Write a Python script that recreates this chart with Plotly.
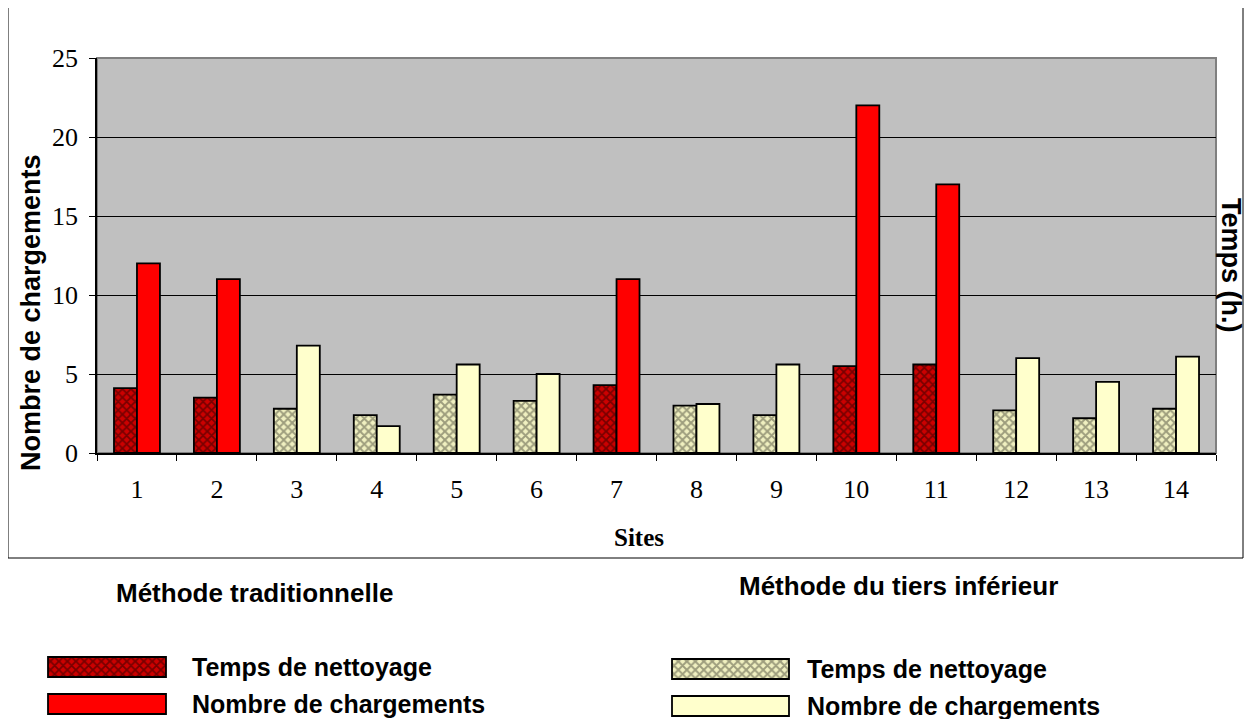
import plotly.graph_objects as go

# Data
SITES = [str(i) for i in range(1, 15)]
# "Méthode traditionnelle" sites: 1, 2, 7, 10, 11 ; others: "Méthode du tiers inférieur"
TRAD_TEMPS = [4.1, 3.5, None, None, None, None, 4.3, None, None, 5.5, 5.6, None, None, None]
TRAD_NOMBRE = [12, 11, None, None, None, None, 11, None, None, 22, 17, None, None, None]
TIERS_TEMPS = [None, None, 2.8, 2.4, 3.7, 3.3, None, 3.0, 2.4, None, None, 2.7, 2.2, 2.8]
TIERS_NOMBRE = [None, None, 6.8, 1.7, 5.6, 5.0, None, 3.1, 5.6, None, None, 6.0, 4.5, 6.1]
Y_TICKS = [0, 5, 10, 15, 20, 25]

# the page body has an 8px margin, so the figure is shrunk by 16px and
# every screen coordinate below is shifted by 8px
PAD = 8
W, H = 1254 - 2 * PAD, 727 - 2 * PAD
RED = "#FF0000"
DARK_RED = "#CC0000"
CREAM = "#FFFFCC"
BEIGE = "#F0F0C0"

def px(x):
    return (x - PAD) / W

def py(y):
    return 1 - (y - PAD) / H

fig = go.Figure()

line = dict(color="black", width=1.8)
trad_hatch = dict(shape="x", fgcolor="#220000", size=6, solidity=0.5)
tiers_hatch = dict(shape="x", fgcolor="#4A4A3A", size=6, solidity=0.55)

fig.add_trace(go.Bar(
    x=SITES, y=TRAD_TEMPS, offsetgroup="temps", name="trad temps",
    marker=dict(color=DARK_RED, line=line, pattern=trad_hatch),
))
fig.add_trace(go.Bar(
    x=SITES, y=TRAD_NOMBRE, offsetgroup="nombre", name="trad nombre",
    marker=dict(color=RED, line=line),
))
fig.add_trace(go.Bar(
    x=SITES, y=TIERS_TEMPS, offsetgroup="temps", name="tiers temps",
    marker=dict(color=BEIGE, line=line, pattern=tiers_hatch),
))
fig.add_trace(go.Bar(
    x=SITES, y=TIERS_NOMBRE, offsetgroup="nombre", name="tiers nombre",
    marker=dict(color=CREAM, line=line),
))

# Legend swatches drawn on a hidden pixel-scaled axis pair
SW_X = [48, 48, 672, 672]
SW_Y = [667, 704, 669, 706]
SW_W = [118, 118, 117, 117]
sw_styles = [
    dict(color=DARK_RED, line=line, pattern=trad_hatch),
    dict(color=RED, line=line),
    dict(color=BEIGE, line=line, pattern=tiers_hatch),
    dict(color=CREAM, line=line),
]
for sx, sy, sw, st in zip(SW_X, SW_Y, SW_W, sw_styles):
    fig.add_trace(go.Bar(
        x=[sw], y=[sy], base=[sx], orientation="h", width=[20], offset=-10,
        marker=st, xaxis="x2", yaxis="y2", hoverinfo="skip",
    ))

x0, x1, y0, y1 = 97, 1216, 58, 453

fig.update_layout(
    width=W, height=H,
    margin=dict(l=0, r=0, t=0, b=0, autoexpand=False),
    paper_bgcolor="white",
    plot_bgcolor="rgba(0,0,0,0)",
    barmode="group",
    bargap=0.425,
    bargroupgap=0,
    showlegend=False,
    xaxis=dict(
        domain=[px(x0), px(x1)],
        type="category",
        automargin=False,
        tickson="boundaries",
        ticks="outside", ticklen=6, tickcolor="black",
        showline=True, linecolor="black", linewidth=1.5,
        showgrid=False,
        tickfont=dict(family="Liberation Serif", size=26, color="black"),
        ticklabelstandoff=12,
    ),
    yaxis=dict(
        domain=[py(y1), py(y0)],
        range=[0, 25],
        automargin=False,
        tickvals=Y_TICKS,
        ticks="outside", ticklen=6, tickcolor="black",
        showline=True, linecolor="black", linewidth=1.5,
        showgrid=True, gridcolor="black", gridwidth=1,
        zeroline=False,
        tickfont=dict(family="Liberation Serif", size=26, color="black"),
        ticklabelstandoff=6,
    ),
    xaxis2=dict(domain=[0, 1], range=[PAD, PAD + W], visible=False, anchor="y2", automargin=False),
    yaxis2=dict(domain=[0, 1], range=[PAD + H, PAD], visible=False, anchor="x2", automargin=False),
)

# plot area background and border
fig.add_shape(type="rect", xref="x domain", yref="y domain", x0=0, x1=1, y0=0, y1=1,
              fillcolor="#C0C0C0", line=dict(color="#808080", width=2), layer="below")
# outer chart frame
fig.add_shape(type="rect", xref="paper", yref="paper", x0=px(8), x1=px(1243), y0=py(558), y1=py(7),
              line=dict(color="black", width=1), layer="below")

bold_sans = dict(family="Liberation Sans", size=26, color="black")
legend_font = dict(family="Liberation Sans", size=25, color="black")


def label(x, y, text, font, angle=0, xanchor="center"):
    fig.add_annotation(x=px(x), y=py(y), xref="paper", yref="paper", showarrow=False,
                       xanchor=xanchor, yanchor="middle", textangle=angle,
                       text=text, font=font)


label(31, 313, "<b>Nombre de chargements</b>", dict(family="Liberation Sans", size=27, color="black"), -90)
label(1231, 265, "<b>Temps (h.)</b>", dict(family="Liberation Sans", size=27, color="black"), 90)
label(639, 537, "<b>Sites</b>", dict(family="Liberation Serif", size=25, color="black"))
label(254, 593, "<b>Méthode traditionnelle</b>", bold_sans)
label(898, 586, "<b>Méthode du tiers inférieur</b>", bold_sans)

LEG_TEXT = ["Temps de nettoyage", "Nombre de chargements", "Temps de nettoyage", "Nombre de chargements"]
LEG_X = [190, 190, 805, 805]
for t, lx, ly in zip(LEG_TEXT, LEG_X, SW_Y):
    label(lx, ly, f"<b>{t}</b>", legend_font, xanchor="left")

fig.write_html("out.html")
